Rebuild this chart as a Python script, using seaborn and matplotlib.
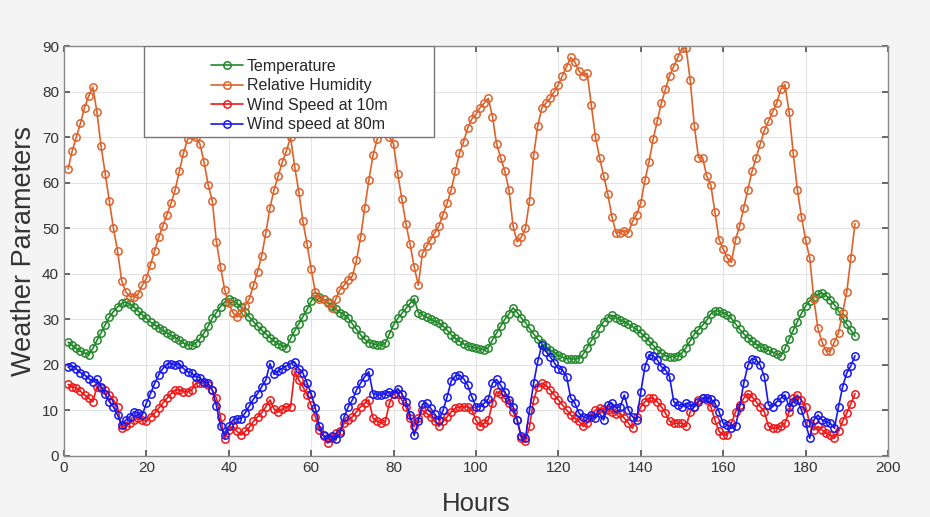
import matplotlib
matplotlib.use("Agg")
import matplotlib.pyplot as plt
from matplotlib.patches import Rectangle
import seaborn as sns
import numpy as np

# hourly readings, hours 1..192
hours = list(range(1, 193))

humidity = [
    63, 67, 70, 73, 76.5, 79, 81, 75.5, 68, 62,
    56, 50, 45, 38.5, 36, 35, 35, 35.5, 37.5, 39,
    42, 45, 48, 50.5, 53, 55.5, 58.5, 62.5, 66.5, 69.5,
    70.5, 70, 68.5, 64.5, 59.5, 56, 47, 41.5, 36.5, 33.5,
    31.5, 30.5, 31.5, 33, 34.5, 37.5, 40.5, 44, 49, 54.5,
    58.5, 61.5, 64.5, 67, 70, 63.5, 58, 51.5, 46.5, 41,
    36, 34.5, 34.5, 33.5, 32.5, 34.5, 36.5, 37.5, 38.7, 39.5,
    43, 48, 54.5, 60.5, 66, 69.5, 71, 71, 70, 68.5,
    62, 56.5, 51, 46.5, 41.5, 37.5, 44.5, 46, 47.5, 49,
    50.5, 53, 55.5, 58.5, 62.5, 66.5, 69, 72, 74, 75,
    76.5, 77.5, 78.5, 74.5, 68.5, 65.5, 62.5, 58.5, 50.5, 47,
    48, 50, 56, 66, 72.5, 76.5, 77.5, 78.5, 80, 81.5,
    83.5, 85.5, 87.5, 86.5, 84.5, 83.5, 84, 77, 70, 65.5,
    61.5, 57.5, 52.5, 49, 49, 49.5, 49, 51.5, 53, 55.5,
    60.5, 64.5, 69.5, 73.5, 77.5, 80.5, 83.5, 85.5, 87.5, 89.5,
    89.5, 82.5, 72.5, 65.5, 65.5, 61.5, 59.5, 53.5, 47.5, 45.5,
    43.5, 42.5, 47.5, 50.5, 54.5, 58.5, 62.5, 65.5, 68.5, 71.5,
    73.5, 75.5, 77.5, 80.5, 81.5, 75.5, 66.5, 58.5, 52.5, 47.5,
    43.5, 34.5, 28, 25, 23, 23, 25, 27, 31.5, 36,
    43.5, 51,
]

temperature = [
    25, 24.3, 23.6, 23, 22.6, 22.2, 23.6, 25.4, 27, 28.8,
    30.5, 31.7, 32.7, 33.5, 33.8, 33.3, 32.7, 31.8, 31, 30.2,
    29.4, 28.8, 28.2, 27.6, 27, 26.5, 26, 25.4, 24.8, 24.4,
    24.3, 24.8, 25.8, 27, 28.5, 30.3, 31.5, 32.8, 33.8, 34.5,
    34, 33.5, 32.6, 31.6, 30.5, 29.5, 28.5, 27.6, 26.8, 26,
    25.2, 24.6, 24.2, 23.8, 25.8, 27.5, 29, 30.6, 32.2, 34,
    35.2, 35, 34.4, 33.8, 33, 32.2, 31.5, 31, 30.2, 29,
    27.8, 26.6, 25.6, 24.9, 24.6, 24.4, 24.3, 24.8, 26.8, 28.8,
    30.2, 31.3, 32.4, 33.5, 34.5, 31.5, 31, 30.5, 30, 29.6,
    29.2, 28.5, 27.6, 26.6, 25.8, 25.2, 24.6, 24.2, 23.9, 23.7,
    23.5, 23.3, 23.8, 25.5, 27, 28.5, 30, 31.2, 32.5, 31.5,
    30.3, 29.3, 28, 26.8, 25.6, 24.7, 24, 23.3, 22.7, 22.1,
    21.7, 21.4, 21.3, 21.3, 21.4, 22.3, 23.8, 25.3, 26.8, 28.2,
    29.5, 30.4, 30.9, 30.4, 29.8, 29.5, 28.9, 28.4, 27.8, 27,
    26.2, 25.2, 24.3, 23.3, 22.5, 22, 21.8, 21.8, 21.9, 22.6,
    23.8, 25.3, 26.8, 27.7, 28.7, 29.8, 31.2, 31.9, 31.8, 31.4,
    31, 30.2, 29, 27.8, 26.8, 26, 25.2, 24.5, 24, 23.6,
    23.2, 22.8, 22.4, 21.9, 23.6, 25.6, 27.6, 29.5, 31.3, 32.9,
    34.1, 35, 35.5, 35.8, 35.2, 34.3, 33.2, 31.8, 30.3, 28.9,
    27.6, 26.3,
]

wind_10m = [
    15.7, 15.2, 14.9, 14.2, 13.4, 12.7, 11.9, 15.2, 15, 14.5,
    13.4, 12.3, 10.8, 6.1, 6.5, 7.2, 7.9, 8.3, 7.9, 7.6,
    8.6, 9.4, 10.5, 11.6, 12.7, 13.7, 14.5, 14.5, 14.1, 14.1,
    14.5, 16, 16, 16, 15.5, 14.5, 12.7, 8.5, 3.8, 5.7,
    6.6, 5.4, 4.6, 5.4, 6.3, 7.6, 8.6, 9.5, 10.8, 12.3,
    10.3, 9.7, 10.3, 10.8, 10.8, 18.5, 16.7, 15.2, 13.4, 11.2,
    8.6, 5.7, 4.3, 2.8, 3.9, 5, 5.4, 7.2, 7.9, 8.6,
    9.7, 10.8, 11.6, 12.3, 8.3, 7.6, 7.2, 7.6, 11.6, 13.7,
    13.7, 12.3, 10.8, 8.3, 6.5, 8.3, 10.1, 9.4, 8.6, 7.6,
    6.5, 7.6, 8.6, 9.7, 10.5, 10.8, 10.8, 10.8, 10.1, 7.9,
    6.5, 7.2, 7.9, 11.6, 14.1, 13.7, 12.7, 11.6, 9.7, 7.9,
    3.9, 3.2, 6.5, 12.3, 15.2, 16, 15.5, 14.5, 13.4, 12.3,
    11.2, 10.1, 9, 8.3, 7.6, 6.5, 7.2, 8.6, 10.1, 10.5,
    10.3, 10.1, 9.7, 9.2, 9.4, 8.3, 7.2, 6.1, 8.6, 10.8,
    11.9, 12.7, 12.7, 11.9, 10.8, 9.4, 7.6, 7.2, 7.2, 7.2,
    6.5, 9.7, 10.8, 12.3, 12.7, 12.3, 10.8, 7.9, 5.4, 4.6,
    4.6, 7.2, 9.7, 11.2, 12.7, 13.7, 13, 11.9, 10.8, 9.7,
    6.5, 6.1, 6.1, 6.5, 7.2, 9.7, 12.7, 13.4, 12.3, 10.8,
    7.2, 5.7, 6.5, 5.7, 5, 4.6, 3.9, 5.4, 7.6, 9.4,
    11.5, 13.7,
]

wind_80m = [
    19.5, 19.8, 19.1, 18.3, 17.8, 17, 16.3, 16.8, 15.2, 13.7,
    11.9, 10.8, 9, 6.8, 7.9, 8.6, 9.7, 9.4, 9, 11.6,
    13.7, 15.9, 17.8, 19.2, 20.2, 20.3, 19.9, 20.3, 19.2, 18.5,
    18.2, 17.4, 17.2, 16.3, 16, 14.5, 11, 6.5, 4.5, 6.5,
    7.9, 8.1, 8.2, 9.5, 11, 12.5, 13.7, 15.2, 16.7, 20.3,
    17.9, 18.7, 19.2, 19.8, 20.3, 20.6, 19.2, 18.2, 16, 13.7,
    10.5, 6.5, 4.5, 4, 4.3, 3.7, 5, 8.6, 10.8, 12.3,
    14.5, 16, 17.4, 18.5, 13.7, 13.4, 13.4, 13.7, 14.1, 13.7,
    14.8, 13.7, 11.9, 9, 4.5, 7.6, 11.4, 11.6, 10.5, 9.2,
    7.9, 10, 13, 16.5, 17.6, 17.8, 17, 15.5, 13, 10.8,
    10.8, 11.6, 12.5, 16, 16.8, 15.5, 14.1, 12.3, 10.8, 7.9,
    4.3, 3.9, 10.1, 16, 20.8, 24.4, 22.9, 21.8, 20.5, 19.2,
    18.9, 17.4, 12.7, 11.6, 9.4, 8.6, 8.3, 9, 8.3, 9.4,
    7.9, 11.2, 11.6, 10.5, 10.8, 13.4, 10.1, 8.6, 7.9, 14,
    19.5, 22.2, 22, 21.1, 19.6, 18.9, 17.4, 11.9, 11.2, 10.8,
    11.6, 11.2, 10.8, 11.9, 12.7, 12.7, 12.5, 11.6, 9.7, 7.2,
    6.8, 6.1, 6.5, 10.8, 16, 19.9, 21.4, 21.1, 19.9, 17.4,
    11.2, 10.8, 11.9, 12.7, 13.4, 10.8, 11.9, 12.3, 10.1, 7.2,
    3.9, 7.9, 9, 7.9, 7.5, 7.2, 6.1, 10.8, 15.2, 18.2,
    19.8, 22,
]

series = [
    ("Temperature", temperature, "#23892b"),
    ("Relative Humidity", humidity, "#dd622b"),
    ("Wind Speed at 10m", wind_10m, "#f01818"),
    ("Wind speed at 80m", wind_80m, "#1818ee"),
]

sns.set_theme(style="whitegrid")
plt.rcParams["font.family"] = ["Liberation Sans", "DejaVu Sans"]

fig = plt.figure(figsize=(9.3, 5.17), dpi=100, facecolor="#f4f4f4")
ax = fig.add_axes([0.0688, 0.118, 0.886, 0.793])
ax.set_facecolor("white")

for name, vals, col in series:
    sns.lineplot(x=hours, y=vals, ax=ax, color=col, marker="o", markersize=5.3,
                 markerfacecolor="none", markeredgecolor=col, markeredgewidth=1.1,
                 linewidth=1.2, label=name)

ax.set_xlim(0, 200)
ax.set_ylim(0, 90)
ax.set_xticks(range(0, 201, 20))
ax.set_yticks(range(0, 91, 10))
ax.grid(True, color="#e3e3e3", linewidth=0.8)
ax.tick_params(direction="in", length=4, color="#555555", labelcolor="#333333",
               labelsize=11, bottom=True, left=True, top=True, right=True,
               labeltop=False, labelright=False)
for sp in ax.spines.values():
    sp.set_color("#8a8a8a")
    sp.set_linewidth(1.0)

ax.set_xlabel("Hours", fontsize=18.5, color="#333333", labelpad=12)
ax.set_ylabel("Weather Parameters", fontsize=19.5, color="#333333", labelpad=4)

# legend box (wider than its content, like the original)
ax.add_patch(Rectangle((0.097, 0.778), 0.352, 0.222, transform=ax.transAxes,
                       facecolor="white", edgecolor="#777777", linewidth=1.0, zorder=5))
leg = ax.legend(loc="upper left", bbox_to_anchor=(0.163, 1.0), frameon=False,
                fontsize=11.5, handlelength=2.0, handletextpad=0.25, labelspacing=0.28,
                borderpad=0.3)
leg.set_zorder(6)

fig.savefig("out.png", dpi=100, facecolor=fig.get_facecolor())
